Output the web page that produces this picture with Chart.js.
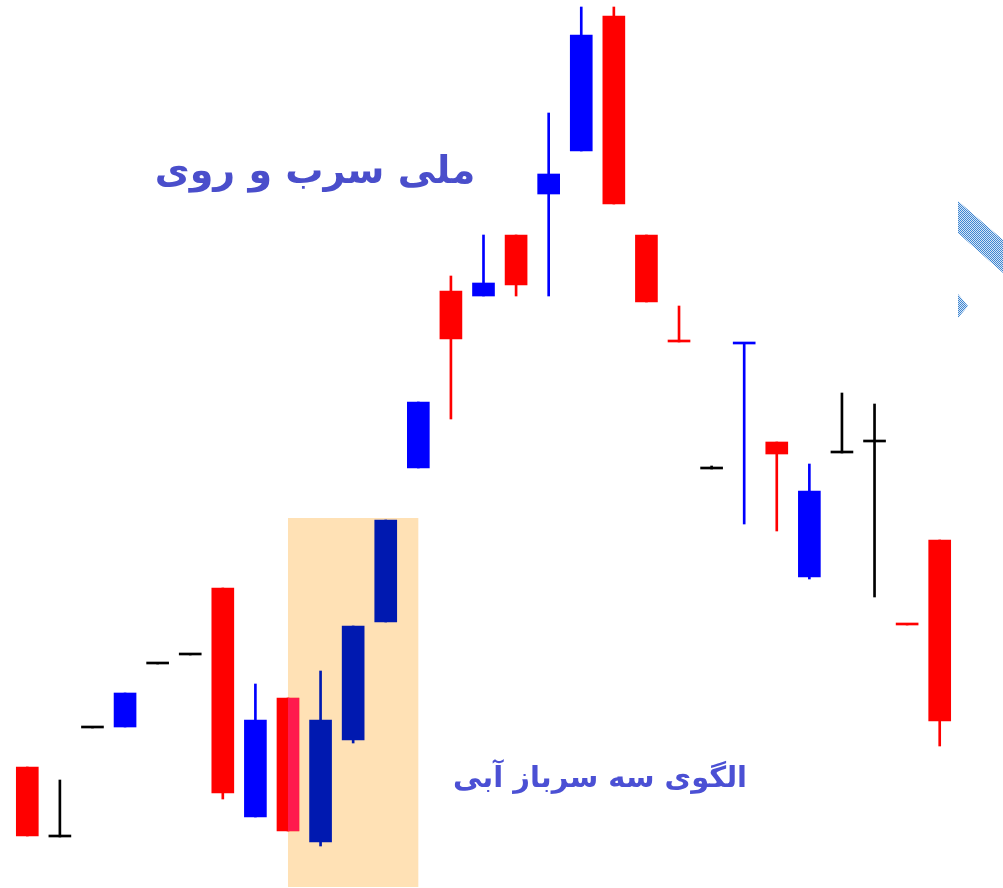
<!DOCTYPE html>
<html lang="fa">

<head>
   <meta charset="UTF-8">
   <title>ملی سرب و روی</title>
   <style>
      body {
         margin: 0;
         background-color: #ffffff;
      }

      #myChart {
         display: block;
      }
   </style>
</head>

<body>
   <canvas id="myChart" width="1003" height="888"></canvas>

   <script src="https://cdn.jsdelivr.net/npm/chart.js"></script>
   <script>
      // candle values (arbitrary price units)
      const labels = ['1', '2', '3', '4', '5', '6', '7', '8', '9', '10', '11', '12', '13', '14', '15',
         '16', '17', '18', '19', '20', '21', '22', '23', '24', '25', '26', '27', '28', '29'];
      const open  = [121, 51, 160, 161, 224, 233, 300, 71, 190, 46, 148, 266, 420, 597, 592,
         653, 694, 737, 872, 653, 546, 419, 544, 446, 311, 435, 446, 263, 348];
      const close = [52, 51, 160, 195, 224, 233, 95, 168, 57, 168, 262, 368, 486, 549, 605,
         603, 714, 853, 684, 586, 546, 419, 544, 434, 397, 435, 446, 263, 167];
      const high  = [121, 108, 160, 195, 224, 233, 300, 204, 190, 217, 262, 368, 486, 612, 653,
         653, 775, 881, 881, 653, 582, 422, 544, 446, 424, 495, 484, 263, 348];
      const low   = [52, 51, 160, 161, 224, 233, 89, 71, 57, 42, 145, 266, 420, 469, 592,
         592, 592, 737, 684, 586, 546, 419, 364, 357, 309, 435, 291, 263, 142];
      // r = red, b = blue, k = black, d = dark blue (inside the pattern box)
      const kind  = ['r', 'k', 'k', 'b', 'k', 'k', 'r', 'b', 'r', 'd', 'd', 'd', 'b', 'r', 'b',
         'r', 'b', 'b', 'r', 'r', 'r', 'k', 'b', 'r', 'b', 'k', 'k', 'r', 'r'];

      // shaded "three soldiers" box: candle index range and price range
      const boxFrom = 8, boxTo = 12;
      const boxTop = 370, boxBottom = 1;

      const titleText = 'ملی سرب و روی';
      const patternText = 'الگوی سه سرباز آبی';

      const palette = { r: '#ff0000', b: '#0000ff', k: '#000000', d: '#0019b0' };
      const colors = kind.map(k => palette[k]);

      const ctx = document.getElementById('myChart').getContext('2d');

      const decorations = {
         id: 'decorations',
         beforeDatasetsDraw(chart) {
            const c = chart.ctx;
            const x = chart.scales.x, y = chart.scales.y;
            const left = x.getPixelForValue(boxFrom);
            const right = x.getPixelForValue(boxTo);
            const top = y.getPixelForValue(boxTop);
            const bottom = y.getPixelForValue(boxBottom);
            c.save();
            c.fillStyle = '#ffe1b5';
            c.fillRect(left, top, right - left, bottom - top);
            c.restore();
         },
         afterDatasetsDraw(chart) {
            const c = chart.ctx;
            const x = chart.scales.x;
            const boxLeft = x.getPixelForValue(boxFrom);

            // the part of the red candle that sits inside the box looks pinkish
            const el = chart.getDatasetMeta(0).data[boxFrom];
            const p = el.getProps(['x', 'y', 'base', 'width'], true);
            const l = Math.max(p.x - p.width / 2, boxLeft);
            c.save();
            c.fillStyle = '#ff1a4d';
            c.fillRect(l, Math.min(p.y, p.base), p.x + p.width / 2 - l, Math.abs(p.base - p.y));
            c.restore();

            // texts
            c.save();
            c.direction = 'rtl';
            c.textAlign = 'center';
            c.fillStyle = '#4a4ecb';
            c.font = 'bold 38px "DejaVu Sans"';
            c.fillText(titleText, 315, 183);
            c.fillStyle = '#4b50d4';
            c.font = 'bold 29px "DejaVu Sans"';
            c.fillText(patternText, 600, 787);
            c.restore();

            // dotted arrow piece cut off at the right edge
            const pc = document.createElement('canvas');
            pc.width = 2; pc.height = 2;
            const pctx = pc.getContext('2d');
            pctx.fillStyle = '#d6e6f6';
            pctx.fillRect(0, 0, 2, 2);
            pctx.fillStyle = '#3f86d2';
            pctx.fillRect(0, 0, 1, 1);
            pctx.fillRect(1, 1, 1, 1);
            const pattern = c.createPattern(pc, 'repeat');
            const w = chart.width;
            c.save();
            c.fillStyle = pattern;
            c.beginPath();
            c.moveTo(958, 201);
            c.lineTo(w, 240);
            c.lineTo(w, 273);
            c.lineTo(958, 233);
            c.closePath();
            c.fill();
            c.beginPath();
            c.moveTo(958, 294);
            c.lineTo(968, 306);
            c.lineTo(958, 318);
            c.closePath();
            c.fill();
            c.restore();
         }
      };

      const data = {
         labels: labels,
         datasets: [{
            label: 'body',
            data: open.map((o, i) => [o, close[i]]),
            backgroundColor: colors,
            barThickness: 22,
            minBarLength: 2,
            grouped: false,
            borderWidth: 0
         }, {
            label: 'wick',
            data: low.map((l, i) => [l, high[i]]),
            backgroundColor: colors,
            barThickness: 2,
            grouped: false,
            borderWidth: 0
         }]
      };

      const options = {
         responsive: false,
         animation: false,
         layout: {
            padding: { left: 11, right: 47, top: 0, bottom: 0 }
         },
         scales: {
            x: {
               display: false
            },
            y: {
               display: false,
               min: 0,
               max: 888
            }
         },
         plugins: {
            legend: { display: false },
            tooltip: { enabled: false }
         }
      };

      const myChart = new Chart(ctx, {
         type: 'bar',
         data: data,
         options: options,
         plugins: [decorations]
      });
   </script>
</body>

</html>
